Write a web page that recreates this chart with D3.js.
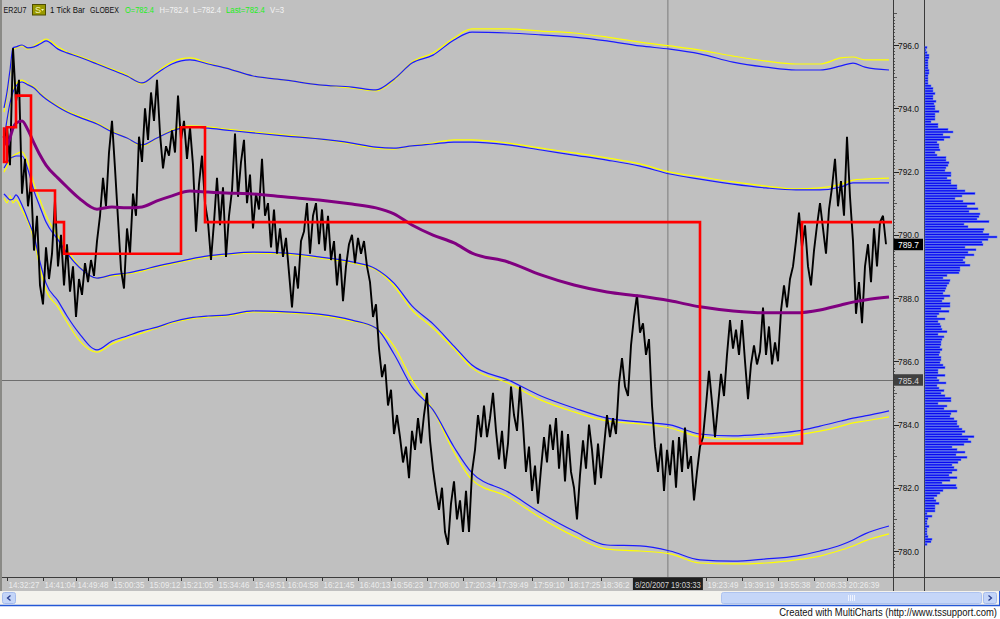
<!DOCTYPE html>
<html><head><meta charset="utf-8">
<script src="https://cdn.jsdelivr.net/npm/d3@7"></script>
<style>
body{margin:0;background:#fff;overflow:hidden}
svg{display:block}
text{font-family:"Liberation Sans",Arial,sans-serif}
</style>
</head><body>
<svg id="c" width="1000" height="619"></svg>
<script>
// ---------------- DATA ----------------
const symbol = "ER2U7";
const barType = "1 Tick Bar";
const exchange = "GLOBEX";
const quoteOpen = 782.4, quoteHigh = 782.4, quoteLow = 782.4, quoteLast = 782.4, quoteVol = 3;
const lastPrice = 789.7;
const cursorPrice = 785.4;
const cursorBar = 221.3;
const cursorTime = "8/20/2007 19:03:33";

// price axis labels
const priceTicks = [780, 782, 784, 786, 788, 790, 792, 794, 796];

// time axis (bar index of tick, label)
const timeTickBars = [1, 13, 24, 36, 48, 59, 71, 83, 94, 106, 118, 129, 141, 153, 164, 176, 188, 199, 234, 246, 258, 270, 281];
const timeLabels = ["14:32:27","14:41:04","14:49:48","15:00:35","15:09:12","15:21:05","15:34:46","15:49:51","16:04:58","16:21:45","16:40:13","16:56:23","17:08:00","17:20:34","17:39:49","17:59:10","18:17:25","18:36:2","19:23:49","19:39:19","19:55:38","20:08:33","20:26:39"];

// tick price (sampled trace, one value per sampled bar)
const tickPrice = [
792.8,793.4,792.2,795.9,794.2,794.9,791.3,792.4,790.9,791.7,
789.5,790.6,788.4,787.8,789.6,788.6,789.4,791.1,789.0,790.0,
788.4,789.7,788.2,789.0,787.4,788.6,788.1,789.1,788.5,789.2,
788.7,789.8,790.6,791.8,790.9,792.6,793.6,792.1,790.5,788.9,
788.3,790.2,789.4,791.3,790.6,793.1,792.3,794.0,793.0,794.5,
793.6,794.9,793.2,792.1,792.8,792.5,793.3,792.6,794.4,793.0,
793.6,792.4,793.4,792.2,790.1,791.6,792.5,791.0,790.4,789.2,
790.4,791.8,790.3,791.5,789.3,790.6,791.4,793.2,791.2,792.3,
793.0,791.0,791.9,790.2,791.3,790.8,792.4,790.6,791.0,789.6,
790.8,789.4,790.2,789.3,789.9,788.8,787.7,789.0,788.3,789.8,
790.1,791.0,789.4,790.6,791.0,789.7,790.8,789.5,790.6,789.2,
789.8,788.4,789.4,787.9,789.0,789.7,790.0,789.1,789.9,789.4,
789.8,789.0,788.5,787.4,787.8,786.4,785.5,785.9,784.6,785.1,
783.7,784.3,783.6,782.8,783.3,782.3,783.8,783.2,784.2,783.4,
784.3,785.0,783.5,782.6,781.9,781.3,782.0,780.6,780.2,781.5,
782.2,781.0,781.6,780.6,781.9,780.6,782.5,783.2,784.3,783.6,
784.6,783.6,784.2,785.0,783.8,782.9,783.8,782.6,783.4,785.2,
784.3,783.8,785.2,784.0,782.5,783.3,781.9,782.7,781.5,782.6,
783.6,782.8,784.0,783.2,784.2,782.6,783.8,782.2,783.7,782.5,
782.0,781.0,782.4,783.5,782.6,784.0,783.2,782.1,783.4,782.3,
783.3,784.3,783.6,784.2,783.7,785.3,786.1,785.2,784.9,786.5,
787.4,788.1,786.9,787.2,786.2,786.7,784.6,783.3,782.5,783.4,
781.9,783.2,782.4,783.5,782.0,783.6,782.5,783.9,782.6,783.0,
781.6,782.5,783.3,783.6,784.6,785.7,784.7,783.6,784.6,785.6,
784.9,786.2,787.3,786.4,787.0,786.2,787.3,786.0,784.8,785.9,
786.5,785.9,786.3,787.7,786.2,787.1,785.9,786.6,786.0,787.6,
788.4,787.7,788.6,789.0,789.8,790.7,789.6,790.3,789.0,788.4,
789.5,790.3,791.0,790.2,789.4,790.8,791.5,792.4,790.9,791.7,
790.6,793.1,791.2,789.8,787.5,788.5,787.2,789.0,789.7,788.5,
790.2,789.0,790.4,790.6,789.7
];
const tickBarStep = 1; // one sample per bar index

// bands: bar index of each sample
const bandBars = [0,1,2,3,4,6,8,10,12,14,18,21,25,31,36,41,46,51,56,62,68,74,83,94,105,116,124,130,136,143,150,156,168,179,190,201,212,222,232,243,254,264,272,279,283,287,295];

const upperOuterBlue = [794.01,794.51,795.21,795.91,795.94,796.00,795.91,795.94,796.03,796.13,795.87,795.75,795.62,795.40,795.21,795.02,794.80,795.11,795.40,795.53,795.40,795.27,795.02,794.89,794.74,794.67,794.58,794.92,795.43,795.68,796.16,796.41,796.38,796.32,796.25,796.13,795.97,795.87,795.72,795.46,795.30,795.21,795.21,795.34,795.43,795.30,795.21];
const upperOuterYellow = [793.88,794.42,795.15,795.84,795.91,795.97,795.87,795.97,796.09,796.19,795.94,795.78,795.65,795.43,795.24,795.05,794.77,795.15,795.46,795.59,795.43,795.27,795.02,794.89,794.74,794.64,794.55,794.89,795.46,795.75,796.22,796.51,796.51,796.44,796.38,796.25,796.09,795.97,795.84,795.65,795.49,795.40,795.40,795.59,795.62,795.53,795.53];
const upperInnerBlue = [793.00,793.63,794.17,794.51,794.70,794.83,794.74,794.64,794.45,794.29,794.04,793.88,793.72,793.50,793.25,793.06,792.84,793.06,793.28,793.41,793.37,793.31,793.22,793.12,793.03,792.90,792.77,792.74,792.81,792.87,792.93,792.93,792.84,792.68,792.52,792.36,792.17,791.92,791.76,791.60,791.48,791.42,791.42,791.51,791.64,791.64,791.64];
const upperInnerYellow = [792.90,793.57,794.13,794.58,794.77,794.89,794.77,794.67,794.48,794.32,794.07,793.91,793.76,793.53,793.28,793.06,792.81,793.06,793.31,793.44,793.41,793.34,793.25,793.15,793.03,792.87,792.74,792.71,792.81,792.90,793.00,793.00,792.90,792.74,792.59,792.43,792.24,791.98,791.83,791.67,791.54,791.45,791.48,791.60,791.73,791.76,791.79];
const vwap = [793.12,792.84,793.06,793.37,793.53,793.60,793.31,792.90,792.52,792.20,791.79,791.51,791.16,790.81,790.88,790.85,790.88,791.07,791.23,791.38,791.35,791.32,791.29,791.19,791.10,790.97,790.85,790.66,790.31,789.99,789.74,789.42,789.14,788.73,788.41,788.19,788.06,787.91,787.72,787.59,787.53,787.53,787.62,787.78,787.87,787.94,788.03];
const lowerInnerBlue = [792.11,792.27,792.40,792.46,792.49,792.49,792.05,791.38,790.88,790.40,789.84,789.42,788.98,788.63,788.73,788.79,788.89,789.01,789.11,789.23,789.33,789.39,789.45,789.42,789.30,789.14,788.92,788.47,787.75,787.18,786.48,785.88,785.41,784.90,784.52,784.20,784.08,783.99,783.70,783.64,783.70,783.79,783.95,784.11,784.20,784.27,784.43];
const lowerInnerYellow = [791.98,792.17,792.36,792.49,792.55,792.62,792.27,791.60,791.10,790.62,789.96,789.52,789.01,788.63,788.70,788.76,788.85,788.98,789.08,789.20,789.30,789.36,789.42,789.39,789.27,789.11,788.89,788.38,787.62,787.05,786.39,785.79,785.31,784.77,784.40,784.11,784.02,783.89,783.61,783.54,783.57,783.67,783.79,783.95,784.05,784.11,784.24];
const lowerOuterBlue = [791.29,791.19,791.10,791.13,791.26,790.94,790.47,789.96,789.14,788.47,787.91,787.43,786.89,786.36,786.64,786.80,786.96,787.08,787.24,787.37,787.43,787.46,787.59,787.56,787.49,787.30,787.05,786.23,785.19,784.46,783.29,782.47,781.87,781.20,780.63,780.19,780.16,780.00,779.72,779.68,779.75,779.84,780.00,780.19,780.35,780.54,780.79];
const lowerOuterYellow = [791.16,791.01,791.23,791.01,791.10,790.78,790.40,789.84,788.95,788.25,787.72,787.24,786.67,786.29,786.55,786.74,786.89,787.05,787.21,787.34,787.40,787.43,787.56,787.53,787.46,787.27,787.05,786.48,785.41,784.46,783.13,782.25,781.71,781.04,780.47,780.06,780.00,779.91,779.62,779.59,779.62,779.72,779.84,780.03,780.16,780.32,780.54];

// red step line (bar where level starts, level)
const stepBars   = [0, 0, 1, 4, 9, 17, 20, 59, 67, 232, 266, 296];
const stepLevels = [793.4, 792.3, 793.4, 794.4, 791.4, 790.4, 789.4, 793.4, 790.4, 783.4, 790.4, 790.4];

// volume profile, from top price level down to bottom price level
const profileTop = 795.92, profileBottom = 780.21;
const profileVol = [
2,1,2,4,4,3,3,3,3,4,
4,3,3,3,3,6,8,8,10,8,
8,11,9,10,10,14,10,10,10,6,
13,13,23,28,18,25,19,12,14,14,
15,10,12,21,21,24,23,21,20,26,
26,22,26,26,32,32,40,50,37,30,
38,50,42,53,44,55,54,52,64,39,
43,59,58,64,72,63,57,58,40,51,
43,49,40,38,40,45,35,35,34,22,
18,25,24,22,21,20,18,25,19,
17,25,25,16,24,14,12,20,13,15,
16,17,22,13,19,17,16,16,15,17,
15,14,16,16,15,18,20,13,13,20,
12,14,21,12,14,19,16,20,26,26,
13,22,19,32,26,25,29,32,32,34,
37,40,37,49,43,46,39,27,32,40,
31,42,36,33,27,29,32,27,24,32,
25,17,31,32,18,15,12,9,11,14,
10,10,10,2,7,3,2,2,4,2,
2,2,3,7,6,2
];

// ---------------- DRAW ----------------
const svg = d3.select("#c");
const BG = "#c0c0c0";
const plotR = 893, axisR = 924, plotB = 577;

const y = d3.scaleLinear().domain([780, 796]).range([551, 45]);
const x = d3.scaleLinear().domain([0, 294]).range([4, 886]);
const pv = d3.scaleLinear().domain([0, 72]).range([0, 72]);

// text placed at (x0,y0) and squeezed horizontally to width w
function fitText(parent, str, x0, y0, w, size, fill, anchor){
  const t = parent.append("text").attr("x",0).attr("y",0)
    .attr("font-size",size).attr("fill",fill).attr("text-anchor",anchor||"start").text(str);
  const nat = t.node().getComputedTextLength();
  const k = w ? Math.min(1, w/nat) : 1;
  t.attr("transform",`translate(${x0},${y0}) scale(${k},1)`);
  return t;
}

svg.append("rect").attr("width",1000).attr("height",606).attr("fill",BG);
svg.append("rect").attr("y",606).attr("width",1000).attr("height",13).attr("fill","#ffffff");

const defs = svg.append("defs");
defs.append("clipPath").attr("id","plotclip").append("rect").attr("x",2).attr("y",0).attr("width",plotR-2).attr("height",plotB);

const plot = svg.append("g").attr("clip-path","url(#plotclip)");

// crosshair
plot.append("line").attr("x1",x(cursorBar)).attr("x2",x(cursorBar)).attr("y1",0).attr("y2",plotB)
  .attr("stroke","#7a7a7a").attr("stroke-width",1);
plot.append("line").attr("x1",0).attr("x2",plotR).attr("y1",Math.round(y(cursorPrice))+0.5).attr("y2",Math.round(y(cursorPrice))+0.5)
  .attr("stroke","#6e6e6e").attr("stroke-width",1);

const bandLine = d3.line().x(d=>x(d[0])).y(d=>y(d[1])).curve(d3.curveMonotoneX);
const zipBand = arr => bandBars.map((b,i)=>[b, arr[i]]).filter(d=>d[1]!==undefined);

[[upperOuterYellow,"#ffff00"],[upperOuterBlue,"#1a1aff"],
 [upperInnerYellow,"#ffff00"],[upperInnerBlue,"#1a1aff"],
 [lowerInnerYellow,"#ffff00"],[lowerInnerBlue,"#1a1aff"],
 [lowerOuterYellow,"#ffff00"],[lowerOuterBlue,"#1a1aff"]].forEach(([arr,col])=>{
  plot.append("path").datum(zipBand(arr)).attr("d",bandLine)
    .attr("fill","none").attr("stroke",col).attr("stroke-width",1.2);
});

// tick trace
const tickLine = d3.line().x((d,i)=>x(i*tickBarStep)).y(d=>y(d));
plot.append("path").datum(tickPrice).attr("d",tickLine)
  .attr("fill","none").attr("stroke","#000").attr("stroke-width",1.9).attr("stroke-linejoin","bevel");

// vwap
plot.append("path").datum(zipBand(vwap)).attr("d",bandLine)
  .attr("fill","none").attr("stroke","#800080").attr("stroke-width",3);

// red step line
const stepLine = d3.line().x(d=>x(d[0])).y(d=>y(d[1])).curve(d3.curveStepAfter);
plot.append("path").datum(stepBars.map((b,i)=>[b, stepLevels[i]])).attr("d",stepLine)
  .attr("fill","none").attr("stroke","#ff0000").attr("stroke-width",2.6);

// ---------------- PRICE AXIS ----------------
svg.append("line").attr("x1",plotR+0.5).attr("x2",plotR+0.5).attr("y1",0).attr("y2",591).attr("stroke","#3a3a3a");
svg.append("line").attr("x1",axisR+0.5).attr("x2",axisR+0.5).attr("y1",0).attr("y2",591).attr("stroke","#3a3a3a");

const minor = d3.range(7795, 7971, 1).map(v=>v/10);
svg.append("g").selectAll("line").data(minor).join("line")
  .attr("x1",plotR+1).attr("x2",d=> (Math.abs(d-Math.round(d))<1e-6) ? plotR+4 : plotR+2)
  .attr("y1",d=>Math.round(y(d))+0.5).attr("y2",d=>Math.round(y(d))+0.5)
  .attr("stroke","#555").attr("stroke-width",1);

const pa = svg.append("g");
pa.selectAll("line").data(priceTicks).join("line")
  .attr("x1",plotR+1).attr("x2",plotR+6).attr("y1",d=>Math.round(y(d))+0.5).attr("y2",d=>Math.round(y(d))+0.5)
  .attr("stroke","#222");
priceTicks.forEach(p=>fitText(pa, d3.format(".1f")(p), plotR+5, y(p)+3.5, 21, "9.5px", "#111"));

// last price box
svg.append("rect").attr("x",plotR+1).attr("y",y(lastPrice)-5.5).attr("width",29).attr("height",11.5).attr("fill","#000");
fitText(svg, d3.format(".1f")(lastPrice), plotR+5, y(lastPrice)+3.5, 21, "9.5px", "#fff");
// cursor price box
svg.append("rect").attr("x",plotR+1).attr("y",y(cursorPrice)-6).attr("width",29).attr("height",11.5).attr("fill","#404040");
fitText(svg, d3.format(".1f")(cursorPrice), plotR+5, y(cursorPrice)+3.5, 21, "9.5px", "#d8d8d8");

// ---------------- VOLUME PROFILE ----------------
const nBins = profileVol.length;
const binStep = (profileTop - profileBottom)/(nBins-1);
const binPx = Math.abs(y(profileTop) - y(profileTop - binStep));
svg.append("g").selectAll("rect").data(profileVol).join("rect")
  .attr("x",axisR+1)
  .attr("y",(d,i)=>y(profileTop - i*binStep) - binPx/2 + 0.3)
  .attr("width",d=>Math.max(1,pv(d)))
  .attr("height",binPx-0.7)
  .attr("fill","#0808f0").attr("stroke","#4868ff").attr("stroke-width",0.5);

// ---------------- TIME AXIS ----------------
svg.append("line").attr("x1",0).attr("x2",1000).attr("y1",plotB+0.5).attr("y2",plotB+0.5).attr("stroke","#3c3c3c");
const ta = svg.append("g");
ta.selectAll("line").data(timeTickBars).join("line")
  .attr("x1",d=>Math.round(x(d))+0.5).attr("x2",d=>Math.round(x(d))+0.5)
  .attr("y1",plotB+1).attr("y2",plotB+4).attr("stroke","#333");
timeTickBars.forEach((b,i)=>{
  const lab = timeLabels[i];
  fitText(ta, lab, x(b)+1.5, 588, lab.length===8 ? 31 : 27, "9px", "#ececec");
});
// cursor time box
const cx = x(cursorBar);
svg.append("rect").attr("x",cx-35).attr("y",578).attr("width",70).attr("height",12).attr("fill","#1e1e1e");
fitText(svg, cursorTime, cx, 588, 66, "9px", "#d0d0d0", "middle");

// ---------------- HEADER ----------------
const hdr = svg.append("g");
function ht(t, x0, w, col){ fitText(hdr, t, x0, 12.5, w, "9.5px", col); }
ht(symbol, 3.5, 23, "#111");
svg.append("rect").attr("x",32.5).attr("y",4.5).attr("width",13).attr("height",10.5).attr("fill","#999900").attr("stroke","#4d4d00");
svg.append("text").attr("x",35).attr("y",13).attr("font-size","9px").attr("fill","#f4f4b0").text("S");
svg.append("path").attr("d","M41,9 L44,9 L42.5,11 Z").attr("fill","#f4f4b0");
ht(barType, 50, 35, "#111");
ht(exchange, 90, 29, "#111");
ht("O=" + quoteOpen.toFixed(1), 125, 29, "#22ee22");
ht("H=" + quoteHigh.toFixed(1), 159.5, 29, "#f4f4f4");
ht("L=" + quoteLow.toFixed(1), 193, 28, "#f4f4f4");
ht("Last=" + quoteLast.toFixed(1), 226, 39, "#22ee22");
ht("V=" + quoteVol, 270, 14, "#f4f4f4");

// left window edge
svg.append("rect").attr("x",0).attr("y",0).attr("width",2).attr("height",591).attr("fill","#8a8a86");

// ---------------- SCROLLBAR & FOOTER ----------------
svg.append("rect").attr("x",0).attr("y",591).attr("width",1000).attr("height",14).attr("fill","#f4f3ee");
svg.append("rect").attr("x",2.5).attr("y",592.5).attr("width",13).attr("height",11).attr("rx",2).attr("fill","#c4d5f8").attr("stroke","#a5bbec");
svg.append("path").attr("d","M10.5,595.5 L7.5,598 L10.5,600.5").attr("fill","none").attr("stroke","#2a3f8f").attr("stroke-width",1.3);
svg.append("rect").attr("x",721.5).attr("y",592.5).attr("width",260).attr("height",11).attr("rx",2).attr("fill","#c5d6f8").attr("stroke","#aec3ef");
[848,850,852,854].forEach(g=>svg.append("line").attr("x1",g+0.5).attr("x2",g+0.5).attr("y1",595).attr("y2",601).attr("stroke","#eef3ff"));
svg.append("rect").attr("x",983.5).attr("y",592.5).attr("width",13).attr("height",11).attr("rx",2).attr("fill","#c4d5f8").attr("stroke","#a5bbec");
svg.append("path").attr("d","M988.5,595.5 L991.5,598 L988.5,600.5").attr("fill","none").attr("stroke","#2a3f8f").attr("stroke-width",1.3);
svg.append("line").attr("x1",0).attr("x2",1000).attr("y1",605.5).attr("y2",605.5).attr("stroke","#2458d6").attr("stroke-width",1.5);
svg.append("line").attr("x1",999.5).attr("x2",999.5).attr("y1",591).attr("y2",606).attr("stroke","#2458d6").attr("stroke-width",1);

fitText(svg, "Created with MultiCharts (http://www.tssupport.com)", 997, 616, 218, "10px", "#111", "end");
</script>
</body></html>
